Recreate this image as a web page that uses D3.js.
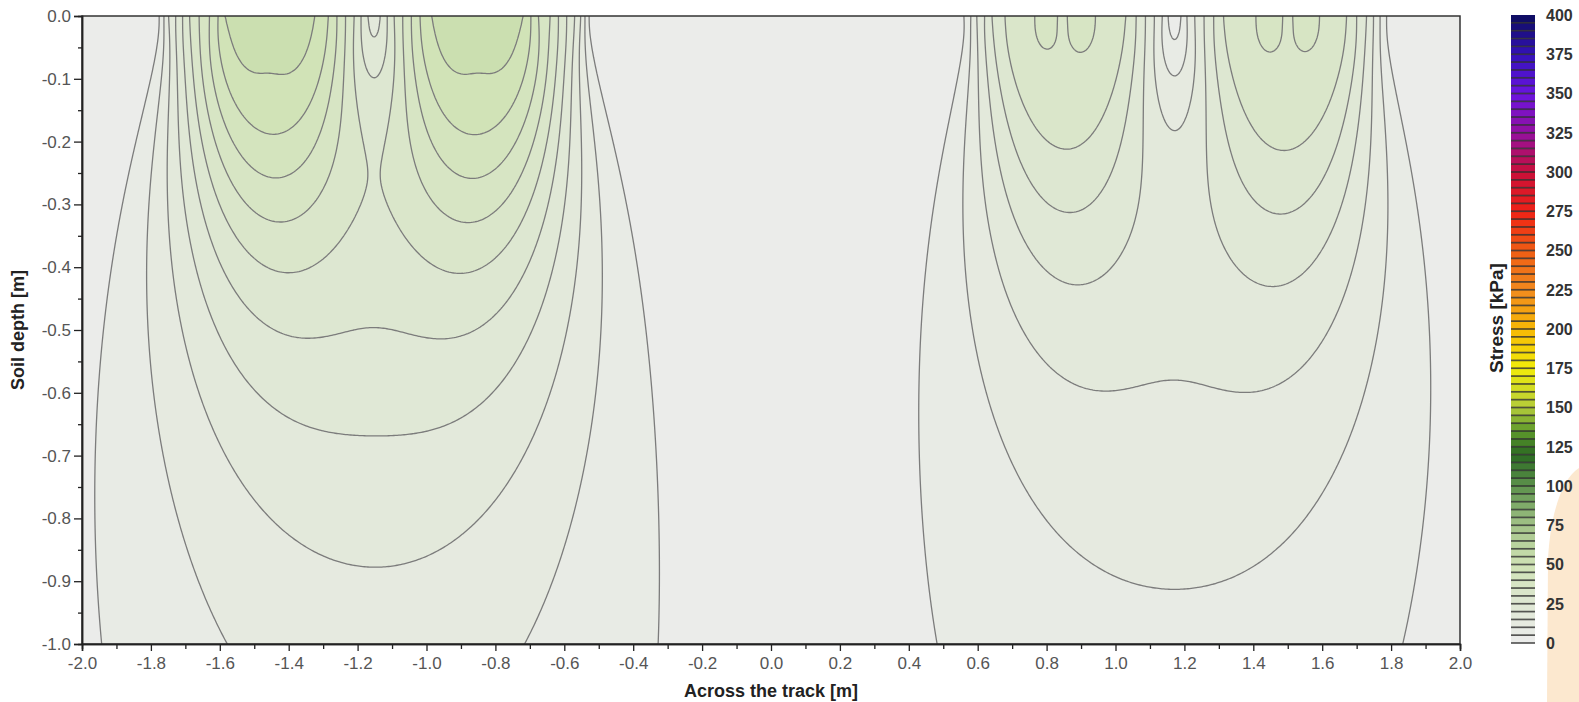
<!DOCTYPE html>
<html>
<head>
<meta charset="utf-8">
<script src="https://cdn.jsdelivr.net/npm/d3@7"></script>
<style>
  body { margin: 0; background: #fff; }
  svg { display: block; font-family: "Liberation Sans", Arial, sans-serif; }
</style>
</head>
<body>
<svg id="chart" width="1579" height="702"></svg>
<script>
// contact stress at the soil surface across the track [m -> kPa]
const surfaceX = [
  -1.790, -1.776, -1.762, -1.749, -1.728, -1.708, -1.688, -1.660, -1.630, -1.605, -1.585,
  -1.520, -1.455, -1.390, -1.324, -1.285, -1.260, -1.235, -1.210, -1.190, -1.170, -1.152,
  -1.134, -1.114, -1.094, -1.069, -1.044, -1.019, -0.985, -0.920, -0.852, -0.785, -0.719,
  -0.697, -0.675, -0.641, -0.617, -0.593, -0.570, -0.552, -0.540, -0.528, -0.515,
  0.545, 0.560, 0.580, 0.597, 0.620, 0.641, 0.679, 0.720, 0.760, 0.785, 0.845, 0.913,
  0.950, 0.990, 1.030, 1.060, 1.087, 1.113, 1.136, 1.152, 1.172, 1.190, 1.207, 1.230,
  1.257, 1.285, 1.313, 1.350, 1.400, 1.434, 1.500, 1.565, 1.600, 1.640, 1.671, 1.700,
  1.729, 1.749, 1.768, 1.787, 1.805
];
const surfaceStress = [
  0, 5, 10, 15, 20, 25, 30, 35, 40, 45, 50,
  52.5, 50.4, 52.5, 50, 45, 40, 35, 30, 25, 20, 18,
  20, 25, 30, 35, 40, 45, 50, 52.5, 50.4, 52.5, 50,
  45, 40, 35, 30, 25, 20, 15, 10, 5, 0,
  0, 5, 10, 15, 20, 25, 30, 33.5, 34.8, 35.7, 34.8, 35.7,
  34.8, 33.5, 30, 25, 20, 15, 10, 5, 2, 5, 10, 15,
  20, 25, 30, 33.5, 34.8, 35.7, 34.8, 35.7, 34.8, 33.5, 30, 25,
  20, 15, 10, 5, 0
];
// half contact length along the driving direction [m], left and right wheel pair
const contactHalfLength = [0.355, 0.39];
const concentration = 5; // Froehlich concentration factor

const contourLevels = [5, 10, 15, 20, 25, 30, 35, 40, 45, 50];
const depthTicks = [0.0, -0.1, -0.2, -0.3, -0.4, -0.5, -0.6, -0.7, -0.8, -0.9, -1.0];
const trackTicks = [-2.0, -1.8, -1.6, -1.4, -1.2, -1.0, -0.8, -0.6, -0.4, -0.2, 0.0,
                    0.2, 0.4, 0.6, 0.8, 1.0, 1.2, 1.4, 1.6, 1.8, 2.0];
const stressTicks = [0, 25, 50, 75, 100, 125, 150, 175, 200, 225, 250, 275, 300, 325, 350, 375, 400];
const colorStops = [0, 25, 50, 75, 100, 120, 135, 150, 175, 200, 225, 250, 275, 300, 325, 350, 375, 400];
const colorValues = ["#ececec", "#dfe7d4", "#cfe2b4", "#a3c388", "#5d924c", "#2b6a22", "#5f9a2c",
  "#b4cc3a", "#f2ec0a", "#f6b806", "#f18a1e", "#ef5c14", "#ef2216", "#c80f3a", "#9410a0",
  "#6a14e0", "#3412b8", "#0c0c5c"];

const svg = d3.select("#chart");
const plotL = 82, plotR = 1460, plotT = 16, plotB = 644;

const x = d3.scaleLinear().domain([-2, 2]).range([plotL, plotR]);
const y = d3.scaleLinear().domain([0, -1]).range([plotT, plotB]);
const color = d3.scaleLinear().domain(colorStops).range(colorValues);
const surface = d3.scaleLinear().domain(surfaceX).range(surfaceStress).clamp(true);

// vertical stress under the surface load (Froehlich, parabolic along the driving direction)
const step = 0.005;
const nx = 801, nz = 201;
const nu = concentration;
const load = new Float64Array(nx);
const loadedBySide = [[], []];
for (let j = 0; j < nx; j++) {
  const xm = -2 + j * step;
  load[j] = surface(xm);
  if (load[j] > 0) loadedBySide[xm < 0 ? 0 : 1].push(j);
}

// y-integral of the point-load kernel, substitution y = r tan(t), Simpson rule
function lineKernel(d, z, a) {
  const r = Math.sqrt(d * d + z * z);
  const tmax = Math.atan(a / r);
  const n = 16, h = tmax / n;
  let s = 0;
  for (let m = 0; m <= n; m++) {
    const t = m * h;
    const v = r * Math.tan(t) / a;
    const f = (1 - v * v) * Math.pow(Math.cos(t), nu);
    s += f * (m === 0 || m === n ? 1 : (m % 2 ? 4 : 2));
  }
  return nu * Math.pow(z, nu) / Math.PI * (s * h / 3) / Math.pow(r, nu + 1);
}

const field = new Float64Array(nx * nz);
for (let j = 0; j < nx; j++) field[j] = load[j];
const kr = [new Float64Array(nx), new Float64Array(nx)];
for (let k = 1; k < nz; k++) {
  const z = k * step;
  const sub = k < 12 ? 8 : 1;
  for (let side = 0; side < 2; side++) {
    const a = contactHalfLength[side];
    for (let i = 0; i < nx; i++) {
      let acc = 0;
      for (let s = 0; s < sub; s++) {
        const d = Math.abs(i * step + ((s + 0.5) / sub - 0.5) * step);
        acc += lineKernel(d, z, a);
      }
      kr[side][i] = acc / sub * step;
    }
  }
  for (let i = 0; i < nx; i++) {
    let sum = 0;
    for (let side = 0; side < 2; side++) {
      const list = loadedBySide[side], ks = kr[side];
      for (let n = 0; n < list.length; n++) {
        const j = list[n];
        sum += load[j] * ks[i > j ? i - j : j - i];
      }
    }
    field[k * nx + i] = sum;
  }
}

const contours = d3.contours().size([nx, nz]).thresholds(contourLevels)(field);
const toPlot = d3.geoTransform({
  point(px, py) {
    this.stream.point(x(-2 + (px - 0.5) * step), y(-(py - 0.5) * step));
  }
});
const path = d3.geoPath(toPlot);

svg.append("defs").append("clipPath").attr("id", "plot-clip")
  .append("rect").attr("x", plotL).attr("y", plotT)
  .attr("width", plotR - plotL).attr("height", plotB - plotT);

// faint watermark at the right edge
svg.append("path")
  .attr("d", "M1579,468 C1562,478 1550,515 1548,560 L1547,702 L1579,702 Z")
  .attr("fill", "#fce8cf");

const plot = svg.append("g").attr("clip-path", "url(#plot-clip)");
plot.append("rect").attr("x", plotL).attr("y", plotT)
  .attr("width", plotR - plotL).attr("height", plotB - plotT)
  .attr("fill", color(2.5));

plot.selectAll("path.band")
  .data(contours)
  .join("path")
  .attr("class", "band")
  .attr("d", path)
  .attr("fill", d => color(d.value + 2.5));

plot.selectAll("path.iso")
  .data(contours)
  .join("path")
  .attr("class", "iso")
  .attr("d", path)
  .attr("fill", "none")
  .attr("stroke", "#7c7c7c")
  .attr("stroke-width", 1.3);

svg.append("rect").attr("x", plotL).attr("y", plotT)
  .attr("width", plotR - plotL).attr("height", plotB - plotT)
  .attr("fill", "none").attr("stroke", "#333").attr("stroke-width", 1.5);

// axes
const mid = ticks => d3.pairs(ticks).map(p => (p[0] + p[1]) / 2);
const styleAxis = g => {
  g.select(".domain").attr("stroke", "#222").attr("stroke-width", 1.5);
  g.selectAll(".tick line").attr("stroke", "#222").attr("stroke-width", 1.3);
  g.selectAll("text").attr("font-size", 17).attr("fill", "#555");
};

svg.append("g").attr("transform", `translate(${plotL},0)`)
  .call(d3.axisLeft(y).tickValues(depthTicks).tickFormat(d => d.toFixed(1))
    .tickSize(8).tickPadding(3))
  .call(styleAxis);
svg.append("g").attr("transform", `translate(${plotL},0)`)
  .call(d3.axisLeft(y).tickValues(mid(depthTicks)).tickFormat("").tickSize(4))
  .call(styleAxis);

svg.append("g").attr("transform", `translate(0,${plotB})`)
  .call(d3.axisBottom(x).tickValues(trackTicks).tickFormat(d => d.toFixed(1))
    .tickSize(7).tickPadding(6))
  .call(styleAxis);
svg.append("g").attr("transform", `translate(0,${plotB})`)
  .call(d3.axisBottom(x).tickValues(mid(trackTicks)).tickFormat("").tickSize(5))
  .call(styleAxis);

svg.append("text")
  .attr("x", (plotL + plotR) / 2).attr("y", 697)
  .attr("text-anchor", "middle")
  .attr("font-size", 18).attr("font-weight", "bold").attr("fill", "#222")
  .text("Across the track [m]");

svg.append("text")
  .attr("transform", `translate(24,${(plotT + plotB) / 2}) rotate(-90)`)
  .attr("text-anchor", "middle")
  .attr("font-size", 18).attr("font-weight", "bold").attr("fill", "#222")
  .text("Soil depth [m]");

// colour bar
const barX = 1511, barW = 24;
const cy = d3.scaleLinear().domain([0, 400]).range([643, 15]);
const bands = d3.range(0, 400, 5);
const bar = svg.append("g");
bar.selectAll("rect")
  .data(bands)
  .join("rect")
  .attr("x", barX).attr("width", barW)
  .attr("y", d => cy(d + 5)).attr("height", d => cy(d) - cy(d + 5))
  .attr("fill", d => color(d + 2.5));
bar.selectAll("line")
  .data(bands.slice(0, -1).map(d => d + 5).concat([0]))
  .join("line")
  .attr("x1", barX).attr("x2", barX + barW)
  .attr("y1", d => cy(d)).attr("y2", d => cy(d))
  .attr("stroke", "#2e2e2e").attr("stroke-opacity", 0.8).attr("stroke-width", 1.7);

svg.append("g").selectAll("text")
  .data(stressTicks)
  .join("text")
  .attr("x", 1546).attr("y", d => cy(d)).attr("dy", "0.36em")
  .attr("font-size", 16).attr("font-weight", "bold").attr("fill", "#333")
  .text(d => d);

svg.append("text")
  .attr("transform", "translate(1503,318) rotate(-90)")
  .attr("text-anchor", "middle")
  .attr("font-size", 19).attr("font-weight", "bold").attr("fill", "#222")
  .text("Stress [kPa]");
</script>
</body>
</html>
